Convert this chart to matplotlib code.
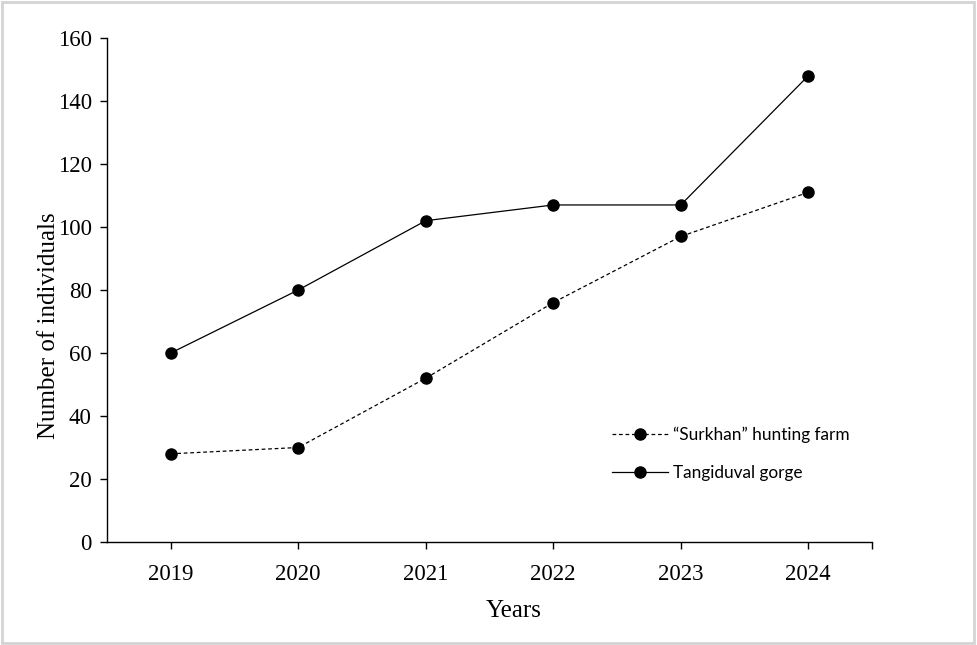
import numpy as np
import matplotlib.pyplot as plt
from matplotlib.patches import Rectangle

years = ["2019", "2020", "2021", "2022", "2023", "2024"]
surkhan = [28, 30, 52, 76, 97, 111]
tangiduval = [60, 80, 102, 107, 107, 148]
yticks = [0, 20, 40, 60, 80, 100, 120, 140, 160]


def main():
    fig = plt.figure(figsize=(9.77, 6.45), dpi=100)
    ax = fig.add_axes([107 / 977, 103 / 645, 765 / 977, 504 / 645])

    x = np.arange(len(years)) + 0.5
    ax.plot(x, surkhan, color="black", lw=0.9, ls=(0, (3, 2.2)),
            marker="o", ms=8, label="\u201cSurkhan\u201d hunting farm")
    ax.plot(x, tangiduval, color="black", lw=0.9, ls="-",
            marker="o", ms=8, label="Tangiduval gorge")

    ax.set_xlim(0, len(years))
    ax.set_ylim(0, 160)
    ax.set_xticks(x)
    ax.set_xticklabels(years)
    ax.set_xticks([len(years)], minor=True)
    ax.set_yticks(yticks)

    for s in ["top", "right"]:
        ax.spines[s].set_visible(False)
    for s in ["left", "bottom"]:
        ax.spines[s].set_linewidth(1.0)
    ax.tick_params(axis="both", which="both", direction="out", length=5,
                   width=1.0, labelsize=16.5, pad=6)
    ax.tick_params(axis="x", pad=11)
    for lab in ax.get_xticklabels() + ax.get_yticklabels():
        lab.set_fontfamily("Liberation Serif")

    ax.set_xlabel("Years", fontsize=18, family="Liberation Serif")
    ax.set_ylabel("Number of individuals", fontsize=18,
                  family="Liberation Serif")
    ax.xaxis.set_label_coords(0.531, -0.115)
    ax.yaxis.set_label_coords(-0.062, 0.43)

    ax.legend(loc="upper left", bbox_to_anchor=(0.64, 0.26),
              frameon=False, handlelength=3.25, handletextpad=0.3,
              labelspacing=1.3, prop={"family": "Lato", "size": 12.4})

    # light grey frame around the picture
    fig.patches.append(Rectangle((0.002, 0.003), 0.995, 0.994,
                                 transform=fig.transFigure, fill=False,
                                 edgecolor="#d4d4d4", lw=2))

    fig.savefig("out.png", dpi=100)


if __name__ == "__main__":
    main()
